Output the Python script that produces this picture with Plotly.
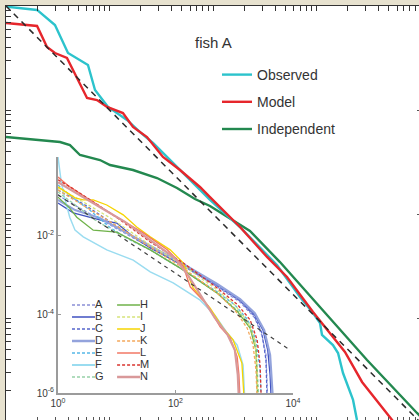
import plotly.graph_objects as go
import numpy as np

W, H = 419, 420

# ---------------- main panel (log10 values) ----------------
obs_lx = [0, 0.039, 0.300, 0.473, 0.599, 0.792, 0.860, 0.986, 1.169, 1.295, 1.420, 1.585, 1.778,
          1.971, 2.261, 2.618, 2.841, 2.966, 3.034, 3.053, 3.159, 3.208, 3.256, 3.353, 3.391, 3.420]
obs_ly = [0.0, -0.010, -0.038, -0.183, -0.452, -0.567, -0.808, -0.971, -1.096, -1.212, -1.317, -1.481,
          -1.673, -1.865, -2.125, -2.490, -2.798, -2.952, -3.048, -3.163, -3.260, -3.337, -3.529,
          -3.788, -3.981, -4.077]

mod_lx = [0, 0.300, 0.396, 0.473, 0.589, 0.783, 0.879, 0.976, 1.130, 1.227, 1.362, 1.517, 1.681,
          1.874, 1.971, 2.261, 2.522, 2.715, 2.966, 3.275, 3.440, 3.710, 3.807]
mod_ly = [-0.163, -0.192, -0.394, -0.452, -0.500, -0.885, -0.904, -0.971, -1.029, -1.163, -1.260,
          -1.452, -1.577, -1.740, -1.837, -2.125, -2.413, -2.606, -2.942, -3.327, -3.615, -3.952, -4.077]

ind_lx = [0, 0.522, 0.618, 0.715, 0.908, 1.005, 1.227, 1.459, 1.652, 1.826, 1.971, 2.357, 2.647,
          3.063, 3.488, 3.971, 4.097]
ind_ly = [-1.260, -1.308, -1.337, -1.433, -1.481, -1.529, -1.577, -1.654, -1.750, -1.856, -1.923,
          -2.163, -2.462, -2.923, -3.404, -3.913, -4.038]

fit_x = [1.0, 15000.0]
fit_y = [1.0, 6.67e-5]

main_names = ["Observed", "Model", "Independent"]

# ---------------- inset (log10 values) ----------------
inset_names = ["A", "B", "C", "D", "E", "F", "G", "H", "I", "J", "K", "L", "M", "N"]

a_lx = [0, 0.37, 0.89, 1.57, 2.13, 2.71, 3.10, 3.35, 3.47, 3.54, 3.57]
a_ly = [-0.97, -1.30, -1.73, -2.31, -2.77, -3.30, -3.69, -4.09, -4.53, -5.03, -6.2]
b_lx = [0, 0.26, 0.71, 1.00, 1.28, 1.57, 2.13, 2.71, 3.10, 3.35, 3.49, 3.57, 3.61, 3.63]
b_ly = [-1.17, -1.42, -1.60, -1.68, -2.03, -2.31, -2.75, -3.25, -3.64, -4.02, -4.40, -4.91, -5.54, -6.2]
c_lx = [0, 0.46, 0.97, 1.57, 2.13, 2.71, 3.10, 3.34, 3.47, 3.54, 3.56]
c_ly = [-0.84, -1.22, -1.73, -2.29, -2.77, -3.28, -3.66, -4.04, -4.47, -5.16, -6.2]
d_lx = [0, 0.29, 0.71, 1.23, 1.57, 2.13, 2.71, 3.10, 3.35, 3.51, 3.61, 3.64, 3.66]
d_ly = [-1.09, -1.35, -1.55, -1.98, -2.26, -2.72, -3.23, -3.61, -3.97, -4.40, -5.03, -5.67, -6.2]
e_lx = [0, 0.24, 0.54, 0.89, 1.23, 1.57, 2.13, 2.71, 3.01, 3.23, 3.37, 3.44, 3.46]
e_ly = [-0.71, -1.02, -1.35, -1.80, -2.11, -2.36, -2.87, -3.43, -3.76, -4.14, -4.65, -5.42, -6.2]
f_lx = [0, 0.05, 0.10, 0.20, 0.29, 0.43, 0.83, 1.28, 1.57, 1.96, 2.42, 2.67, 2.88, 3.05, 3.15, 3.18]
f_ly = [0.0, -0.58, -0.97, -1.53, -1.86, -2.03, -2.36, -2.62, -2.92, -3.20, -3.64, -4.02, -4.47,
        -4.78, -5.29, -6.2]
g_lx = [0, 0.29, 0.63, 1.06, 1.57, 2.13, 2.71, 3.05, 3.27, 3.37, 3.40, 3.42]
g_ly = [-0.89, -1.22, -1.60, -1.98, -2.36, -2.87, -3.46, -3.89, -4.27, -4.78, -5.42, -6.2]
h_lx = [0, 0.20, 0.32, 0.60, 1.00, 1.31, 1.57, 2.13, 2.71, 3.06, 3.27, 3.37, 3.40]
h_ly = [-1.02, -1.30, -1.53, -1.86, -1.91, -2.16, -2.36, -2.87, -3.46, -3.94, -4.35, -4.91, -6.2]
i_lx = [0, 0.37, 0.89, 1.57, 2.13, 2.71, 3.01, 3.23, 3.35, 3.39, 3.40]
i_ly = [-0.79, -1.09, -1.55, -2.24, -2.75, -3.38, -3.76, -4.19, -4.65, -5.42, -6.2]
j_lx = [0, 0.29, 0.43, 0.60, 0.83, 1.11, 1.34, 1.57, 1.91, 2.13, 2.30, 2.59, 2.81, 2.98, 3.13, 3.17]
j_ly = [-0.76, -1.04, -1.09, -1.09, -1.22, -1.47, -1.78, -2.03, -2.36, -2.69, -3.33, -3.84, -4.35,
        -4.65, -5.24, -6.2]
k_lx = [0, 0.37, 0.89, 1.57, 2.13, 2.71, 3.01, 3.22, 3.32, 3.37, 3.39]
k_ly = [-0.84, -1.17, -1.65, -2.29, -2.82, -3.46, -3.89, -4.35, -4.78, -5.42, -6.2]
l_lx = [0, 0.20, 0.54, 1.00, 1.45, 1.86, 2.13, 2.25, 2.54, 2.76, 2.93, 3.05, 3.08, 3.10]
l_ly = [-0.51, -0.76, -1.09, -1.53, -1.93, -2.36, -2.77, -3.30, -3.76, -4.32, -4.60, -5.08, -5.54, -6.2]
m_lx = [0, 0.24, 0.63, 1.06, 1.57, 2.13, 2.71, 3.06, 3.27, 3.39, 3.44, 3.46]
m_ly = [-0.58, -0.79, -1.17, -1.60, -2.16, -2.69, -3.33, -3.76, -4.14, -4.65, -5.29, -6.2]
n_lx = [0, 0.29, 0.71, 1.14, 1.57, 1.99, 2.21, 2.42, 2.67, 2.89, 3.01, 3.06, 3.08]
n_ly = [-0.64, -0.89, -1.27, -1.65, -2.11, -2.57, -3.00, -3.51, -4.09, -4.53, -4.91, -5.54, -6.2]

inset_fit_x = [1.0, 8900.0]
inset_fit_y = [0.11, 1.24e-5]

inset_xtick_vals = [1, 100, 10000]
inset_xtick_text = ["10<sup>0</sup>", "10<sup>2</sup>", "10<sup>4</sup>"]
inset_ytick_vals = [1e-6, 1e-4, 1e-2]
inset_ytick_text = ["10<sup>-6</sup>", "10<sup>-4</sup>", "10<sup>-2</sup>"]

# ---------------- styles ----------------
main_colors = {"Observed": "#2cc3cc", "Model": "#e6262c", "Independent": "#23884f"}
inset_series = [(a_lx, a_ly), (b_lx, b_ly), (c_lx, c_ly), (d_lx, d_ly), (e_lx, e_ly), (f_lx, f_ly),
                (g_lx, g_ly), (h_lx, h_ly), (i_lx, i_ly), (j_lx, j_ly), (k_lx, k_ly), (l_lx, l_ly),
                (m_lx, m_ly), (n_lx, n_ly)]
inset_colors = ["#8a8fd6", "#3f51c0", "#5566cc", "#93a3dc", "#55b8e8", "#9adcf0", "#96d1a8",
                "#6fb24a", "#d6e37a", "#f6d400", "#f4a85c", "#f27764", "#d9342f", "#d9999a"]
inset_dash = ["3px,2px", "solid", "3px,2px", "solid", "3px,2px", "solid", "3px,2px",
              "solid", "3px,2px", "solid", "3px,2px", "solid", "3px,2px", "solid"]
inset_width = [1.3, 1.3, 1.3, 2.2, 1.3, 1.5, 1.3, 1.3, 1.3, 1.3, 1.3, 1.3, 1.3, 2.2]

FONT = "Liberation Sans, Arial, Helvetica, sans-serif"
TXT = "#333333"

def px_x(p):
    return p / W

def px_y(p):
    return 1 - p / H

fig = go.Figure()

# main traces
main_data = {"Observed": (obs_lx, obs_ly), "Model": (mod_lx, mod_ly), "Independent": (ind_lx, ind_ly)}
for name in ["Independent", "Observed", "Model"]:
    lx, ly = main_data[name]
    fig.add_trace(go.Scatter(x=np.power(10.0, lx), y=np.power(10.0, ly), mode="lines", name=name,
                             line=dict(color=main_colors[name], width=2.4), legendgroup=name,
                             legendrank={"Observed": 1, "Model": 2, "Independent": 3}[name],
                             xaxis="x", yaxis="y"))
fig.add_trace(go.Scatter(x=fit_x, y=fit_y, mode="lines", showlegend=False,
                         line=dict(color="#2a2a2a", width=1.5, dash="6px,5px"), xaxis="x", yaxis="y"))

# inset traces
for i, name in enumerate(inset_names):
    lx, ly = inset_series[i]
    fig.add_trace(go.Scatter(x=np.power(10.0, lx), y=np.power(10.0, ly), mode="lines", name=name,
                             showlegend=False,
                             line=dict(color=inset_colors[i], width=inset_width[i], dash=inset_dash[i]),
                             xaxis="x2", yaxis="y2"))
fig.add_trace(go.Scatter(x=inset_fit_x, y=inset_fit_y, mode="lines", showlegend=False,
                         line=dict(color="#404040", width=1.2, dash="4px,4px"), xaxis="x2", yaxis="y2"))

# inset legend (drawn in its own hidden axes; rows/cols from series order)
COL_OFF = 1.96
for i, name in enumerate(inset_names):
    col, row = divmod(i, 7)
    x0 = col * COL_OFF
    fig.add_trace(go.Scatter(x=[x0, x0 + 1], y=[row, row], mode="lines", showlegend=False,
                             line=dict(color=inset_colors[i], width=inset_width[i] + 0.4, dash=inset_dash[i]),
                             xaxis="x3", yaxis="y3"))
    fig.add_trace(go.Scatter(x=[x0 + 1], y=[row], mode="text", text=[name], textposition="middle right",
                             showlegend=False, cliponaxis=False,
                             textfont=dict(size=11, color=TXT, family=FONT), xaxis="x3", yaxis="y3"))

fig.add_trace(go.Scatter(x=[None], y=[None], mode="lines", xaxis="x4", yaxis="y4", showlegend=False))

main_xr = [0, (W - 6) / 103.5]
main_yr = [-(H - 6) / 104, 0]

common = dict(showgrid=False, zeroline=False, automargin=False)

fig.update_layout(
    template="none",
    width=W, height=H, autosize=False,
    margin=dict(l=0, r=0, t=0, b=0, pad=0, autoexpand=False),
    paper_bgcolor="#e7e2cf", plot_bgcolor="rgba(0,0,0,0)",
    font=dict(family=FONT, color=TXT),
    hovermode=False,
    xaxis=dict(type="log", range=main_xr, domain=[px_x(6), 1], side="top", anchor="y",
               showline=True, linecolor="#333", linewidth=1.5, ticks="inside", ticklen=5,
               tickcolor="#333", dtick="D1", showticklabels=False, **common),
    yaxis=dict(type="log", range=main_yr, domain=[0, px_y(6)], anchor="x",
               showline=True, linecolor="#333", linewidth=1.5, ticks="inside", ticklen=5,
               tickcolor="#333", dtick="D1", showticklabels=False, **common),
    xaxis4=dict(type="log", range=main_xr, side="bottom", overlaying="x",
                anchor="y", ticks="inside", ticklen=3, tickcolor="#555", dtick="D1",
                showticklabels=False, showline=False, **common),
    yaxis4=dict(type="log", range=main_yr, side="right", overlaying="y", anchor="x",
                ticks="inside", ticklen=2, tickcolor="#555", dtick=1,
                showticklabels=False, showline=False, **common),
    xaxis2=dict(type="log", range=[0, 4], domain=[px_x(58), px_x(293)], anchor="y2",
                showline=True, linecolor="#9b9b9b", linewidth=2, ticks="inside", ticklen=3,
                tickcolor="#9b9b9b", tickvals=inset_xtick_vals, ticktext=inset_xtick_text,
                tickfont=dict(size=10, color="#3a3a3a"), **common),
    yaxis2=dict(type="log", range=[-6, 0], domain=[px_y(393), px_y(157)], anchor="x2",
                showline=True, linecolor="#9b9b9b", linewidth=2, ticks="inside", ticklen=3,
                tickcolor="#9b9b9b", tickvals=inset_ytick_vals, ticktext=inset_ytick_text,
                tickfont=dict(size=10, color="#3a3a3a"), **common),
    xaxis3=dict(range=[-0.2, 3.5], domain=[px_x(67.4), px_x(152.5)], anchor="y3", visible=False,
                **common),
    yaxis3=dict(range=[6.5, -0.5], domain=[px_y(383), px_y(299)], anchor="x3", visible=False,
                **common),
    legend=dict(x=px_x(217), y=px_y(59), xanchor="left", yanchor="top", bgcolor="rgba(0,0,0,0)",
                borderwidth=0,
                font=dict(size=14, color=TXT, family=FONT), tracegroupgap=6, traceorder="grouped"),
    annotations=[dict(text="fish A", x=px_x(213), y=px_y(43), xref="paper", yref="paper",
                      showarrow=False, font=dict(size=15, color=TXT, family=FONT),
                      xanchor="center", yanchor="middle")],
    shapes=[dict(type="rect", xref="x domain", yref="y domain", x0=0, x1=1, y0=0, y1=1,
                 fillcolor="white", line=dict(width=0), layer="below")],
)

fig.write_html("out.html", config={"displayModeBar": False, "staticPlot": True},
               post_script="document.body.style.margin='0px';document.body.style.overflow='hidden';")
